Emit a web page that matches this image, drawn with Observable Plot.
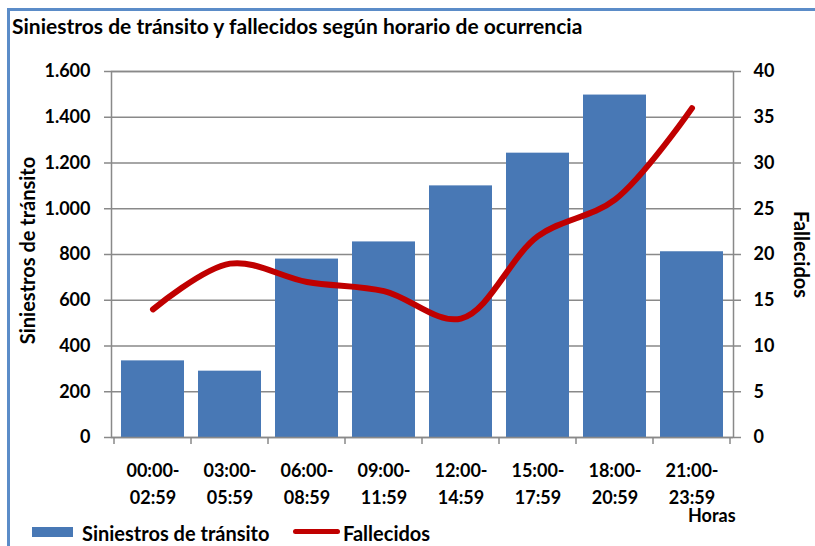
<!DOCTYPE html>
<html><head><meta charset="utf-8">
<script src="https://cdn.jsdelivr.net/npm/d3@7"></script>
<script src="https://cdn.jsdelivr.net/npm/@observablehq/plot@0.6"></script>
<style>
body{margin:0;background:#fff;}
#wrap{position:relative;width:815px;height:546px;overflow:hidden;font-family:Lato,sans-serif;font-weight:bold;color:#000;}
#border{position:absolute;left:7px;top:8px;width:900px;height:700px;border-left:3px solid #5b8cc8;border-top:3px solid #5b8cc8;}
#title{position:absolute;left:12px;top:15px;font-size:21px;line-height:21px;white-space:nowrap;}
#chart{position:absolute;left:0;top:45px;}
#horas{position:absolute;left:688px;top:507px;font-size:18px;line-height:16px;}
.leg{position:absolute;top:524px;font-size:20px;line-height:18px;white-space:nowrap;}
.sw{position:absolute;}
</style></head>
<body><div id="wrap"><div id="border"></div><div id="title"></div><div id="chart"></div><div id="horas"></div><div id="legend"></div></div>
<script>
const titleText = "Siniestros de tránsito y fallecidos según horario de ocurrencia";
const categories = ["00:00-02:59","03:00-05:59","06:00-08:59","09:00-11:59","12:00-14:59","15:00-17:59","18:00-20:59","21:00-23:59"];
const siniestros = [335, 290, 780, 855, 1100, 1243, 1497, 812];
const fallecidos = [14, 19, 17, 16, 13, 22, 26, 36];
const leftTicks = [0, 200, 400, 600, 800, 1000, 1200, 1400, 1600];
const rightTicks = [0, 5, 10, 15, 20, 25, 30, 35, 40];
const seriesNames = ["Siniestros de tránsito", "Fallecidos"];
const xAxisTitle = "Horas";
const ratio = 1600 / 40;

const data = categories.map((c, i) => ({cat: c, s: siniestros[i], f: fallecidos[i]}));
const fmt = d3.formatLocale({decimal: ",", thousands: ".", grouping: [3], currency: ["", ""]}).format(",");
const gray = "#898989";
const font = 'Lato, sans-serif';

document.getElementById("title").textContent = titleText;
document.getElementById("horas").textContent = xAxisTitle;

const chart = Plot.plot({
  width: 815, height: 480,
  marginLeft: 111, marginRight: 82, marginTop: 26, marginBottom: 88,
  x: {domain: categories, paddingInner: 0.18, paddingOuter: 0.09, axis: null},
  y: {domain: [0, 1600], axis: null},
  style: {fontFamily: font, fontSize: "18px", fontWeight: "bold", color: "#000", background: "transparent", overflow: "visible"},
  marks: [
    Plot.ruleY(leftTicks, {stroke: gray, strokeWidth: 1.5}),
    Plot.barY(data, {x: "cat", y: "s", fill: "#4878b5"}),
    Plot.line(data, {x: "cat", y: d => d.f * ratio, stroke: "#c00000", strokeWidth: 6, curve: "catmull-rom", strokeLinecap: "round", strokeLinejoin: "round"}),
    Plot.frame({stroke: gray, strokeWidth: 1.5}),
    Plot.axisY(leftTicks, {anchor: "left", tickSize: 7, tickPadding: 14, tickFormat: fmt, stroke: gray, strokeWidth: 1.5, fill: "#000", label: null}),
    Plot.axisY(rightTicks.map(v => v * ratio), {anchor: "right", tickSize: 7, tickPadding: 13, tickFormat: d => d / ratio, stroke: gray, strokeWidth: 1.5, fill: "#000", label: null}),
    Plot.axisX({tickSize: 0, tickPadding: 20, tickFormat: d => d.replace("-", "-\n"), lineHeight: 1.5, fontSize: 18, fill: "#000", label: null}),
    Plot.text([seriesNames[0]], {frameAnchor: "left", text: d => d, rotate: -90, textAnchor: "middle", dx: -83, dy: -4, fontSize: 20, fill: "#000"}),
    Plot.text([seriesNames[1]], {frameAnchor: "right", text: d => d, rotate: 90, textAnchor: "middle", dx: 67, dy: 0, fontSize: 20, fill: "#000"})
  ]
});

// category boundary tick marks below the x axis
const sx = chart.scale("x");
const sy = chart.scale("y");
const gap = (sx.step - sx.bandwidth) / 2;
const bounds = categories.map(c => sx.apply(c) - gap).concat([sx.apply(categories[categories.length - 1]) + sx.bandwidth + gap]);
const y0 = sy.apply(0);
d3.select(chart).append("g").selectAll("line").data(bounds).join("line")
  .attr("x1", d => d).attr("x2", d => d).attr("y1", y0).attr("y2", y0 + 7)
  .attr("stroke", gray).attr("stroke-width", 1.5);

document.getElementById("chart").appendChild(chart);

// legend
const legend = document.getElementById("legend");
const sw1 = document.createElement("div");
sw1.className = "sw"; Object.assign(sw1.style, {left: "32px", top: "527px", width: "41px", height: "10px", background: "#4878b5"});
const t1 = document.createElement("div"); t1.className = "leg"; t1.style.left = "82px"; t1.textContent = seriesNames[0];
const sw2 = document.createElement("div");
sw2.className = "sw"; Object.assign(sw2.style, {left: "293px", top: "529px", width: "47px", height: "5px", background: "#c00000", borderRadius: "3px"});
const t2 = document.createElement("div"); t2.className = "leg"; t2.style.left = "343px"; t2.textContent = seriesNames[1];
legend.append(sw1, t1, sw2, t2);
</script></body></html>
